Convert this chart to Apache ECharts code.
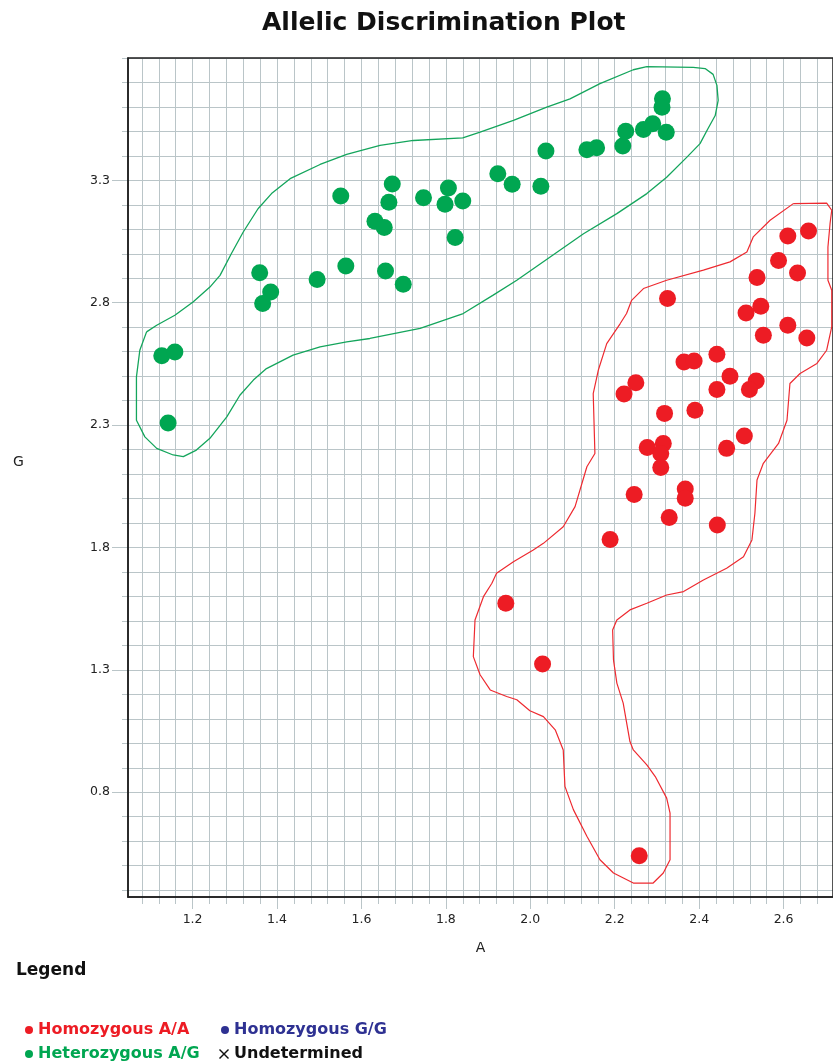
<!DOCTYPE html>
<html><head><meta charset="utf-8">
<script src="https://cdn.jsdelivr.net/npm/echarts@6/dist/echarts.min.js"></script>
<style>html,body{margin:0;padding:0;background:#fff}#c{width:833px;height:1062px}</style>
</head><body><div id="c"></div>
<script>
// ---- data (A, G) ----
const homoAA = [
[2.610,3.073],[2.659,3.093],[2.588,2.973],[2.633,2.922],[2.537,2.903],[2.325,2.817],[2.546,2.786],[2.511,2.758],
[2.610,2.708],[2.552,2.667],[2.655,2.656],[2.442,2.590],[2.364,2.558],[2.388,2.562],[2.250,2.473],[2.222,2.427],
[2.473,2.500],[2.442,2.446],[2.535,2.480],[2.519,2.446],[2.318,2.348],[2.390,2.361],[2.507,2.256],[2.465,2.205],
[2.277,2.209],[2.315,2.225],[2.309,2.184],[2.309,2.127],[2.246,2.017],[2.367,2.039],[2.367,2.001],[2.329,1.923],
[2.443,1.892],[2.189,1.833],[1.942,1.572],[2.029,1.324],[2.258,0.541]
];
const heteroAG = [
[1.127,2.583],[1.158,2.599],[1.142,2.309],[1.359,2.923],[1.385,2.844],[1.366,2.797],[1.495,2.895],[1.551,3.236],
[1.563,2.950],[1.632,3.133],[1.654,3.107],[1.657,2.930],[1.665,3.211],[1.673,3.285],[1.699,2.876],[1.747,3.229],
[1.806,3.269],[1.798,3.202],[1.840,3.216],[1.822,3.067],[1.923,3.327],[1.957,3.284],[2.025,3.276],[2.037,3.420],
[2.134,3.425],[2.157,3.433],[2.219,3.440],[2.226,3.501],[2.268,3.508],[2.290,3.531],[2.322,3.497],[2.313,3.633],
[2.312,3.599]
];
const homoGG = [];
const undetermined = [];
const outlineAG = [
[1.091,2.681],[1.115,2.708],[1.158,2.749],[1.201,2.803],[1.241,2.864],[1.265,2.912],[1.292,3.001],[1.320,3.089],
[1.355,3.184],[1.387,3.246],[1.431,3.307],[1.502,3.365],[1.565,3.406],[1.644,3.443],[1.723,3.463],[1.840,3.474],
[1.881,3.497],[1.960,3.545],[2.039,3.599],[2.094,3.633],[2.165,3.695],[2.244,3.752],[2.276,3.765],[2.386,3.762],
[2.414,3.757],[2.433,3.733],[2.442,3.688],[2.445,3.627],[2.438,3.565],[2.421,3.512],[2.402,3.450],[2.371,3.395],
[2.323,3.313],[2.276,3.246],[2.205,3.164],[2.126,3.082],[2.047,2.987],[1.968,2.892],[1.912,2.831],[1.841,2.756],
[1.739,2.695],[1.620,2.654],[1.565,2.640],[1.502,2.620],[1.438,2.586],[1.375,2.531],[1.344,2.484],[1.312,2.422],
[1.281,2.334],[1.241,2.246],[1.209,2.198],[1.178,2.171],[1.154,2.178],[1.115,2.205],[1.087,2.252],[1.067,2.320],
[1.067,2.497],[1.075,2.606],[1.091,2.681]
];
const outlineAA = [
[2.623,3.205],[2.702,3.207],[2.714,3.178],[2.710,3.123],[2.705,3.028],[2.705,2.892],[2.714,2.851],[2.714,2.701],
[2.702,2.606],[2.679,2.552],[2.639,2.511],[2.615,2.470],[2.608,2.320],[2.588,2.225],[2.552,2.144],[2.537,2.076],
[2.532,1.940],[2.525,1.831],[2.505,1.762],[2.465,1.715],[2.410,1.667],[2.363,1.620],[2.323,1.606],[2.276,1.572],
[2.236,1.545],[2.205,1.504],[2.195,1.463],[2.197,1.341],[2.205,1.246],[2.220,1.164],[2.236,1.007],[2.244,0.973],
[2.276,0.912],[2.296,0.864],[2.323,0.776],[2.331,0.715],[2.331,0.524],[2.315,0.470],[2.291,0.429],[2.244,0.429],
[2.197,0.470],[2.165,0.524],[2.134,0.620],[2.102,0.729],[2.082,0.824],[2.078,0.973],[2.059,1.055],[2.031,1.109],
[1.999,1.133],[1.968,1.178],[1.944,1.191],[1.905,1.218],[1.881,1.280],[1.865,1.354],[1.869,1.504],[1.889,1.599],
[1.909,1.654],[1.920,1.695],[1.960,1.742],[2.007,1.790],[2.031,1.817],[2.078,1.885],[2.106,1.967],[2.134,2.130],
[2.153,2.184],[2.149,2.429],[2.161,2.524],[2.181,2.633],[2.213,2.715],[2.228,2.756],[2.240,2.810],[2.268,2.858],
[2.323,2.892],[2.410,2.933],[2.473,2.967],[2.513,3.007],[2.528,3.069],[2.568,3.137],[2.623,3.205]
];
// axis ranges and tick steps
const xRange = [1.047, 2.717];
const yRange = [0.372, 3.8];
const xGridLines = [1.08, 2.68, 0.04];
const yGridLines = [0.4, 3.8, 0.1];
const xTickLabels = [1.2, 2.6, 0.2];
const yTickLabels = [0.8, 3.3, 0.5];

// ---- layout ----
const W = 833, H = 1062;
const L = 128, T = 58, B = 165, R = 0;
const pw = W - L - R, ph = H - T - B;
const px = v => L + (v - xRange[0]) / (xRange[1] - xRange[0]) * pw;
const py = v => T + (yRange[1] - v) / (yRange[1] - yRange[0]) * ph;
const gridColor = '#bac5c8';
const axisColor = '#1e1e1e';
const fnt = 'DejaVu Sans';
const xShape = 'path://M0,1L1,0L5,4L9,0L10,1L6,5L10,9L9,10L5,6L1,10L0,9L4,5Z';

const chart = echarts.init(document.getElementById('c'), null, {width: W, height: H});
const hidden = (gi, r) => ({gridIndex: gi, type: 'value', show: false, min: r[0], max: r[1]});
const legendText = {fontFamily: fnt, fontWeight: 'bold', fontSize: 16, lineHeight: 16};

chart.setOption({
  animation: false,
  backgroundColor: '#fff',
  title: [
    {text: 'Allelic Discrimination Plot', left: 262, top: 11, padding: 0,
     textStyle: {fontFamily: fnt, fontWeight: 'bold', fontSize: 25, color: '#111'}},
    {text: 'Legend', left: 16, top: 962, padding: 0,
     textStyle: {fontFamily: fnt, fontWeight: 'bold', fontSize: 17, color: '#111'}}
  ],
  graphic: [{type: 'text', left: 13, top: 455, style: {text: 'G', fontSize: 14, fontFamily: fnt, fill: '#222'}}],
  legend: [
    {orient: 'vertical', left: 25, top: 1022, padding: 0, itemWidth: 8, itemHeight: 8, itemGap: 8, icon: 'circle',
     selectedMode: false, textStyle: legendText,
     data: [{name: 'Homozygous A/A', textStyle: {color: '#ed1c24'}},
            {name: 'Heterozygous A/G', textStyle: {color: '#00a651'}}]},
    {orient: 'vertical', left: 221, top: 1022, padding: 0, itemWidth: 8, itemHeight: 8, icon: 'circle',
     selectedMode: false, textStyle: legendText,
     data: [{name: 'Homozygous G/G', textStyle: {color: '#2e3192'}}]},
    {orient: 'vertical', left: 219, top: 1046, padding: 0, itemWidth: 10, itemHeight: 10, icon: xShape,
     itemGap: 0, selectedMode: false, textStyle: legendText,
     data: [{name: 'Undetermined', textStyle: {color: '#111'}}]}
  ],
  grid: [
    {left: L, right: R, top: T, bottom: B, show: true, borderColor: axisColor, borderWidth: 1.5, backgroundColor: 'transparent', z: 3},
    {left: L, right: R, top: T, bottom: H - py(yGridLines[0])},
    {left: px(xGridLines[0]), right: W - px(xGridLines[1]), top: T, bottom: B},
    {left: L, right: R, top: py(yTickLabels[1]), bottom: H - py(yTickLabels[0])},
    {left: px(xTickLabels[0]), right: W - px(xTickLabels[1]), top: T, bottom: B}
  ],
  xAxis: [
    {gridIndex: 0, type: 'value', min: xRange[0], max: xRange[1], z: 5,
     axisLine: {show: true, lineStyle: {color: axisColor, width: 1.5}}, axisTick: {show: false},
     axisLabel: {show: false}, splitLine: {show: false},
     name: 'A', nameLocation: 'middle', nameGap: 44,
     nameTextStyle: {fontFamily: fnt, fontSize: 14, color: '#222'}},
    hidden(1, xRange),
    {gridIndex: 2, type: 'value', min: xGridLines[0], max: xGridLines[1], interval: xGridLines[2],
     axisLine: {show: false}, axisTick: {show: true, length: 7, lineStyle: {color: gridColor}},
     axisLabel: {show: false}, splitLine: {show: true, lineStyle: {color: gridColor, width: 1}}},
    hidden(3, xRange),
    {gridIndex: 4, type: 'value', min: xTickLabels[0], max: xTickLabels[1], interval: xTickLabels[2],
     axisLine: {show: false}, axisTick: {show: true, length: 12, lineStyle: {color: gridColor}},
     axisLabel: {margin: 16, fontSize: 12.5, fontFamily: fnt, color: '#222', formatter: v => v.toFixed(1)},
     splitLine: {show: false}}
  ],
  yAxis: [
    {gridIndex: 0, type: 'value', min: yRange[0], max: yRange[1], z: 5,
     axisLine: {show: true, lineStyle: {color: axisColor, width: 1.5}}, axisTick: {show: false},
     axisLabel: {show: false}, splitLine: {show: false}},
    {gridIndex: 1, type: 'value', min: yGridLines[0], max: yGridLines[1], interval: yGridLines[2],
     axisLine: {show: false}, axisTick: {show: true, length: 6, lineStyle: {color: gridColor}},
     axisLabel: {show: false}, splitLine: {show: true, lineStyle: {color: gridColor, width: 1}}},
    hidden(2, yRange),
    {gridIndex: 3, type: 'value', min: yTickLabels[0], max: yTickLabels[1], interval: yTickLabels[2],
     axisLine: {show: false}, axisTick: {show: true, length: 16, lineStyle: {color: gridColor}},
     axisLabel: {margin: 18, fontSize: 12.5, fontFamily: fnt, color: '#222', formatter: v => v.toFixed(1)},
     splitLine: {show: false}},
    hidden(4, yRange)
  ],
  series: [
    {name: 'AA outline', type: 'line', xAxisIndex: 0, yAxisIndex: 0, data: outlineAA, symbol: 'none',
     lineStyle: {color: '#ee2a30', width: 1.2}, z: 3, silent: true},
    {name: 'AG outline', type: 'line', xAxisIndex: 0, yAxisIndex: 0, data: outlineAG, symbol: 'none',
     lineStyle: {color: '#14a55c', width: 1.3}, z: 3, silent: true},
    {name: 'Homozygous A/A', type: 'scatter', xAxisIndex: 0, yAxisIndex: 0, data: homoAA, symbolSize: 17,
     itemStyle: {color: '#ed1c24', opacity: 1}, z: 4},
    {name: 'Heterozygous A/G', type: 'scatter', xAxisIndex: 0, yAxisIndex: 0, data: heteroAG, symbolSize: 17,
     itemStyle: {color: '#00a651', opacity: 1}, z: 4},
    {name: 'Homozygous G/G', type: 'scatter', xAxisIndex: 0, yAxisIndex: 0, data: homoGG, symbolSize: 17,
     itemStyle: {color: '#2e3192', opacity: 1}},
    {name: 'Undetermined', type: 'scatter', xAxisIndex: 0, yAxisIndex: 0, data: undetermined, symbol: xShape,
     symbolSize: 10, itemStyle: {color: '#111', opacity: 1}}
  ]
});
</script>
</body></html>
